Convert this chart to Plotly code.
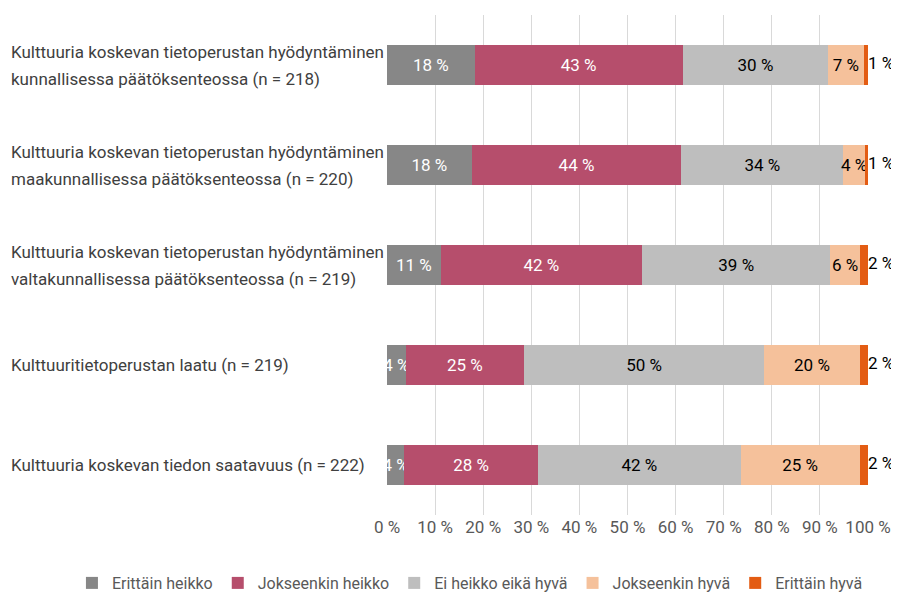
import plotly.graph_objects as go

categories = [
    "Kulttuuria koskevan tietoperustan hyödyntäminen<br>kunnallisessa päätöksenteossa (n = 218)",
    "Kulttuuria koskevan tietoperustan hyödyntäminen<br>maakunnallisessa päätöksenteossa (n = 220)",
    "Kulttuuria koskevan tietoperustan hyödyntäminen<br>valtakunnallisessa päätöksenteossa (n = 219)",
    "Kulttuuritietoperustan laatu (n = 219)",
    "Kulttuuria koskevan tiedon saatavuus (n = 222)",
]
series_names = ["Erittäin heikko", "Jokseenkin heikko", "Ei heikko eikä hyvä",
                "Jokseenkin hyvä", "Erittäin hyvä"]
values = {
    "Erittäin heikko":     [18.2, 17.6, 11.2, 3.9, 3.6],
    "Jokseenkin heikko":   [43.3, 43.6, 41.8, 24.6, 27.8],
    "Ei heikko eikä hyvä": [30.2, 33.7, 39.2, 49.9, 42.1],
    "Jokseenkin hyvä":     [7.4, 4.4, 6.1, 19.9, 24.8],
    "Erittäin hyvä":       [0.9, 0.7, 1.7, 1.7, 1.7],
}
labels = {
    "Erittäin heikko":     [18, 18, 11, 4, 4],
    "Jokseenkin heikko":   [43, 44, 42, 25, 28],
    "Ei heikko eikä hyvä": [30, 34, 39, 50, 42],
    "Jokseenkin hyvä":     [7, 4, 6, 20, 25],
    "Erittäin hyvä":       [1, 1, 2, 2, 2],
}
tick_vals = [0, 10, 20, 30, 40, 50, 60, 70, 80, 90, 100]
tick_text = [f"{v} %" for v in tick_vals]

colors = ["#878787", "#B64E6C", "#BEBEBE", "#F5C19B", "#E35C13"]
text_colors = ["white", "white", "black", "black", "black"]

FONT = "Roboto, sans-serif"
FS = 17


def F(size=FS, color="#595959"):
    return dict(family=FONT, size=size, color=color)


fig = go.Figure()
for i, name in enumerate(series_names):
    is_last = i == len(series_names) - 1
    fig.add_trace(go.Bar(
        name=name,
        y=categories,
        x=values[name],
        orientation="h",
        marker=dict(color=colors[i], line=dict(width=0)),
        text=None if is_last else [f"{v} %" for v in labels[name]],
        textposition="inside",
        insidetextanchor="middle",
        textangle=0,
        constraintext="none",
        textfont=F(color=text_colors[i]),
        cliponaxis=False,
        hoverinfo="skip",
    ))

totals = [sum(values[n][k] for n in series_names) for k in range(len(categories))]
fig.add_trace(go.Scatter(
    x=totals,
    y=categories,
    mode="text",
    text=[f"{v} %" for v in labels[series_names[-1]]],
    textposition="middle right",
    textfont=F(color="black"),
    showlegend=False,
    cliponaxis=False,
    hoverinfo="skip",
))

annotations = []
for cat in categories:
    lines = cat.split("<br>")
    n = len(lines)
    for j, line in enumerate(lines):
        shift = (n - 1) * 13.5 - j * 27
        annotations.append(dict(
            x=-0.786, xref="paper", y=cat, yref="y",
            text=line, showarrow=False, xanchor="left", yanchor="middle",
            yshift=shift,
            font=F(color="#404040"),
        ))

fig.update_layout(
    barmode="stack",
    bargap=0.6,
    width=891, height=588,
    margin=dict(l=379, r=31, t=7, b=81, autoexpand=False),
    plot_bgcolor="white",
    paper_bgcolor="white",
    font=F(),
    annotations=annotations,
    legend=dict(
        orientation="h",
        x=-0.655, xanchor="left", xref="paper",
        y=-0.136, yanchor="middle", yref="paper",
        font=F(size=16),
        tracegroupgap=0,
        traceorder="normal",
    ),
    xaxis=dict(
        range=[0, 100],
        tickvals=tick_vals,
        ticktext=tick_text,
        showgrid=True,
        gridcolor="#D9D9D9",
        gridwidth=1,
        zeroline=False,
        showline=False,
        ticks="",
        tickfont=F(),
        fixedrange=True,
    ),
    yaxis=dict(
        autorange="reversed",
        showticklabels=False,
        showgrid=False,
        showline=False,
        ticks="",
        fixedrange=True,
    ),
)

fig.write_html("out.html")
